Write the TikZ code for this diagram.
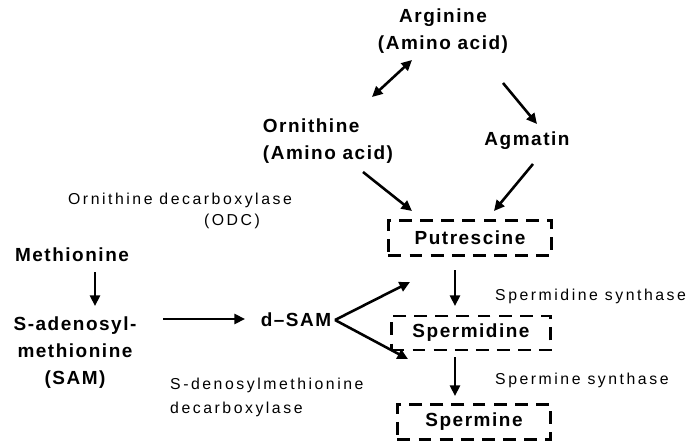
\documentclass[tikz,border=0pt]{standalone}
\usepackage{fontspec}
\setmainfont{Liberation Sans}
\newfontfamily\cmpfont[LetterSpace=8]{Liberation Sans}
\newfontfamily\enzfont[LetterSpace=16]{Liberation Sans}
\usetikzlibrary{arrows.meta,calc}

\tikzset{
  compound/.style={font=\cmpfont\bfseries\fontsize{16.2pt}{23pt}\selectfont, inner sep=0pt},
  enzyme/.style={font=\enzfont\fontsize{13.5pt}{20.4pt}\selectfont, inner sep=0pt},
  pool/.style={compound, draw, line width=2.4pt, dash pattern=on 11pt off 7pt},
  conv/.style={line width=2.2pt, -{Triangle[length=9pt,width=8.5pt]}},
}

\begin{document}
\begin{tikzpicture}[x=0.03cm, y=-0.03cm]
\useasboundingbox (0,0) rectangle (686,448);
\node[compound, align=center](arg) at (443,31) {Arginine\\(Amino acid)};
\node[compound, align=left](orn) at (328,141) {Ornithine\\(Amino acid)};
\node[compound](agm) at (527,141) {Agmatin};
\node[enzyme](odc1) at (180,200) {Ornithine decarboxylase};
\node[enzyme](odc2) at (232,221) {(ODC)};
\node[pool, minimum width=4.89cm, minimum height=1.05cm](put) at (470,238) {Putrescine};
\node[compound](met) at (72,255) {Methionine};
\node[compound, align=center](sam) at (75,353) {S-adenosyl-\\methionine\\(SAM)};
\node[compound](dsam) at (296,320) {d\textendash SAM};
\node[enzyme, anchor=west, align=left](sdc) at (170,397) {S-denosylmethionine\\decarboxylase};
\node[enzyme, anchor=west](spds) at (495,296) {Spermidine synthase};
\node[pool, minimum width=4.77cm, minimum height=1.02cm](spd) at (471,333) {Spermidine};
\node[enzyme, anchor=west](spms) at (495,380) {Spermine synthase};
\node[pool, minimum width=4.59cm, minimum height=1.05cm](spm) at (474,422) {Spermine};
\draw[conv, {Triangle[length=9pt,width=8.5pt]}-{Triangle[length=9pt,width=8.5pt]}] ($(arg)+(-31,29)$) -- ($(orn)+(44,-44)$);
\draw[conv] ($(arg)+(60,52)$) -- ($(agm)+(10,-17)$);
\draw[conv] ($(orn)+(35,31)$) -- ($(put)+(-58,-27)$);
\draw[conv] ($(agm)+(6,23)$) -- ($(put)+(24,-27)$);
\draw[conv] ($(met)+(23,17)$) -- ($(sam)+(20,-47)$);
\draw[conv] ($(sam)+(88,-34)$) -- ($(dsam)+(-51,-1)$);
\draw[conv] ($(dsam)+(39,0)$) -- ($(put)+(-60,44)$);
\draw[conv] ($(dsam)+(39,0)$) -- ($(spd)+(-63,26)$);
\draw[conv] ($(put)+(-15,32)$) -- ($(spd)+(-16,-27)$);
\draw[conv] ($(spd)+(-16,24)$) -- ($(spm)+(-19,-26)$);
\end{tikzpicture}
\end{document}
